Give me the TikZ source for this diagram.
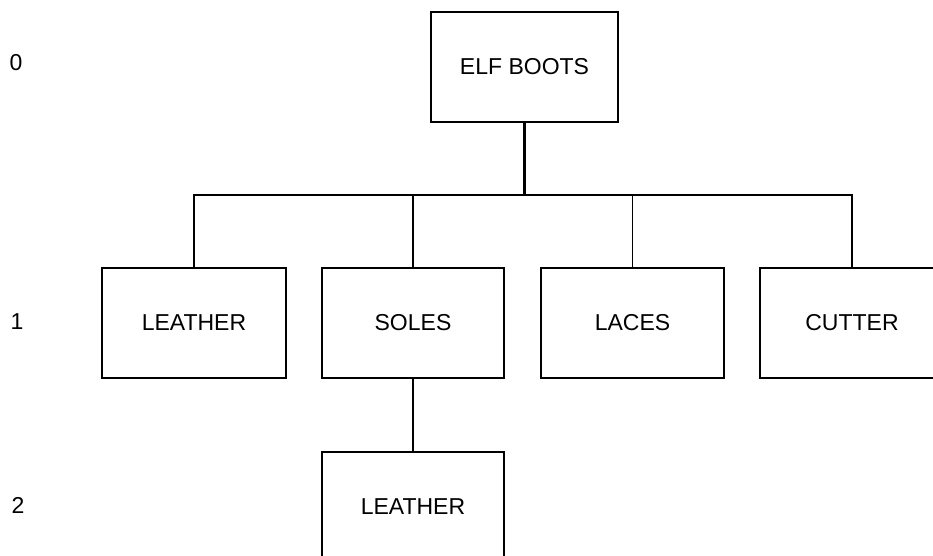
\documentclass[tikz,border=0pt]{standalone}
\usepackage{fontspec}
\setmainfont{Liberation Sans}
\begin{document}
\begin{tikzpicture}[x=1pt,y=-1pt,
  box/.style={draw, line width=1.3pt, minimum height=110pt, inner sep=0pt, font=\fontsize{23}{27}\selectfont},
  lvl/.style={font=\fontsize{23}{27}\selectfont, inner sep=0pt},
  thin/.style={line width=1.3pt},
  thick/.style={line width=2.6pt}]
\useasboundingbox (0,0) rectangle (933,556);
\clip (0,0) rectangle (933,556);
\node[box, minimum width=187pt] (boots) at (524.5,67) {ELF BOOTS};
\node[box, minimum width=184pt] (leather) at (194,323) {LEATHER};
\node[box, minimum width=182pt] (soles) at (413,323) {SOLES};
\node[box, minimum width=183pt] (laces) at (632.5,323) {LACES};
\node[box, minimum width=184pt] (cutter) at (852,323) {CUTTER};
\node[box, minimum width=182pt] (leather2) at (413,507) {LEATHER};
\node[lvl] (l0) at (16,63) {0};
\node[lvl] (l1) at (17,322) {1};
\node[lvl] (l2) at (18,505) {2};
\coordinate (bus) at (524.5,195);
\draw[thick] (boots.south) -- (bus);
\draw[thick] (leather.north) |- (bus);
\draw[thin] (soles.north) |- (bus);
\draw[thin] (laces.north) |- (bus);
\draw[thick] (cutter.north) |- (bus);
\draw[thick] (soles.north |- bus) -- (laces.north |- bus);
\draw[thin] (soles.south) -- (leather2.north);
\end{tikzpicture}
\end{document}
